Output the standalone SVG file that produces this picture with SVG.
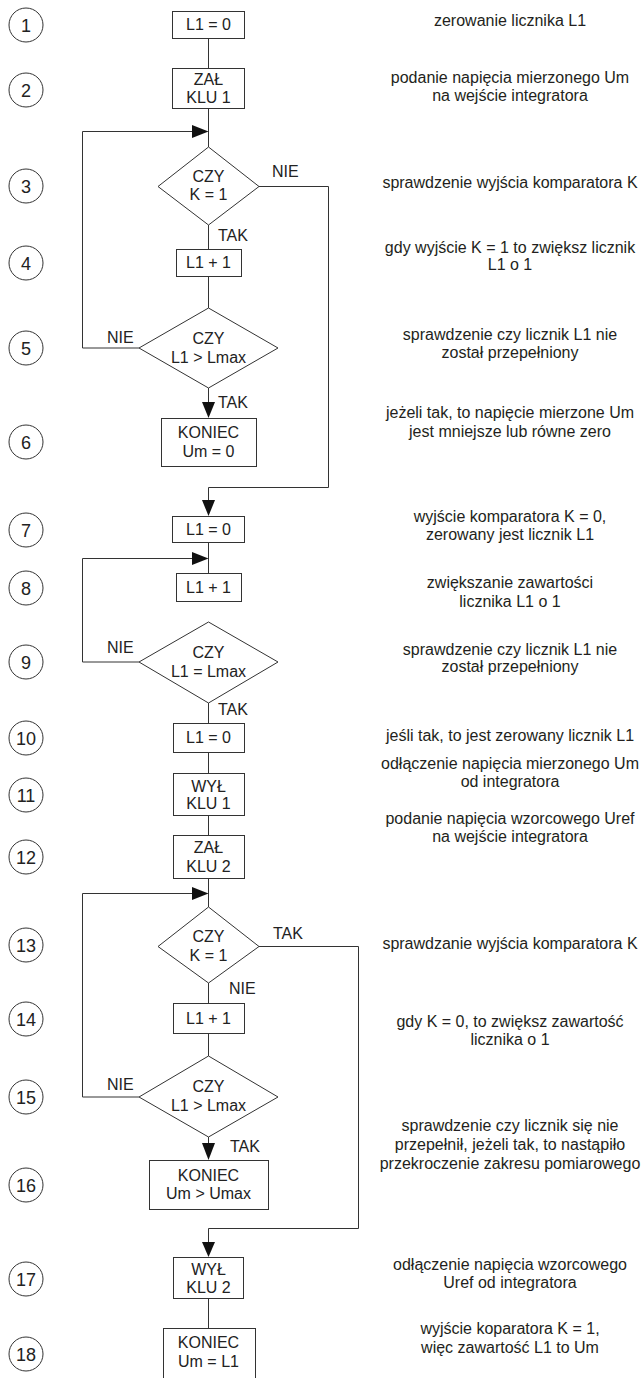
<svg xmlns="http://www.w3.org/2000/svg" width="643" height="1378" viewBox="0 0 643 1378">
<style>
.bx{fill:#fff;stroke:#333;stroke-width:1}
.cn{fill:none;stroke:#333;stroke-width:1}
.ah{fill:#111;stroke:none}
.t{font-family:"Liberation Sans",Arial,sans-serif;font-size:16px;fill:#222;text-anchor:middle}
.lb{font-family:"Liberation Sans",Arial,sans-serif;font-size:16px;fill:#222}
.num{font-family:"Liberation Sans",Arial,sans-serif;font-size:18px;fill:#222;text-anchor:middle}
.ds{font-family:"Liberation Sans",Arial,sans-serif;font-size:16px;fill:#231f20;text-anchor:middle}
.ci{fill:#fff;stroke:#333;stroke-width:1}
</style>
<rect width="643" height="1378" fill="#fff"/>
<g id="connectors">
<path class="cn" d="M208.5,38 V68"/>
<path class="cn" d="M208.5,109 V147"/>
<path class="cn" d="M139,348 H82.5 V131.5 H194"/>
<polygon class="ah" points="192,125 208.5,131.5 192,138"/>
<path class="cn" d="M208.5,225 V249"/>
<path class="cn" d="M208.5,277 V308"/>
<path class="cn" d="M208.5,388 V404"/>
<polygon class="ah" points="202,402 215,402 208.5,418"/>
<path class="cn" d="M259,186.5 H328.5 V487.5 H208.5 V502"/>
<polygon class="ah" points="202,500 215,500 208.5,516"/>
<path class="cn" d="M208.5,543 V573"/>
<path class="cn" d="M139,662 H82.5 V558.5 H194"/>
<polygon class="ah" points="192,552 208.5,558.5 192,565"/>
<path class="cn" d="M208.5,703 V723"/>
<path class="cn" d="M208.5,752 V773"/>
<path class="cn" d="M208.5,815 V835"/>
<path class="cn" d="M208.5,878 V907"/>
<path class="cn" d="M139,1097 H82.5 V893.5 H194"/>
<polygon class="ah" points="192,887 208.5,893.5 192,900"/>
<path class="cn" d="M208.5,983 V1003"/>
<path class="cn" d="M208.5,1033 V1056"/>
<path class="cn" d="M208.5,1137 V1144"/>
<polygon class="ah" points="202,1143 215,1143 208.5,1160"/>
<path class="cn" d="M259,946.5 H358.5 V1228.5 H208.5 V1244"/>
<polygon class="ah" points="202,1242 215,1242 208.5,1257"/>
<path class="cn" d="M208.5,1298 V1328"/>
<text class="lb" x="272" y="177">NIE</text>
<text class="lb" x="218" y="241">TAK</text>
<text class="lb" x="107" y="343">NIE</text>
<text class="lb" x="218" y="408">TAK</text>
<text class="lb" x="107" y="653">NIE</text>
<text class="lb" x="218" y="715">TAK</text>
<text class="lb" x="273" y="939">TAK</text>
<text class="lb" x="229" y="994">NIE</text>
<text class="lb" x="107" y="1090">NIE</text>
<text class="lb" x="230" y="1152">TAK</text>
</g>
<g id="n1"><rect class="bx" x="172.5" y="11.5" width="72" height="27"/><text class="t" x="208.5" y="30">L1 = 0</text></g>
<g id="n2"><rect class="bx" x="172.5" y="68.5" width="72" height="40"/><text class="t" x="208.5" y="85">ZAŁ</text><text class="t" x="208.5" y="103">KLU 1</text></g>
<g id="n3"><polygon class="bx" points="208.5,147 259,186.5 208.5,225 158,186.5"/><text class="t" x="208.5" y="182">CZY</text><text class="t" x="208.5" y="200">K = 1</text></g>
<g id="n4"><rect class="bx" x="176.5" y="249.5" width="65" height="27"/><text class="t" x="208.5" y="268">L1 + 1</text></g>
<g id="n5"><polygon class="bx" points="208.5,308 278,348 208.5,388 139,348"/><text class="t" x="208.5" y="344">CZY</text><text class="t" x="208.5" y="363">L1 &gt; Lmax</text></g>
<g id="n6"><rect class="bx" x="161.5" y="418.5" width="95" height="48"/><text class="t" x="208.5" y="438">KONIEC</text><text class="t" x="208.5" y="457">Um = 0</text></g>
<g id="n7"><rect class="bx" x="172.5" y="516.5" width="72" height="26"/><text class="t" x="208.5" y="535">L1 = 0</text></g>
<g id="n8"><rect class="bx" x="176.5" y="573.5" width="65" height="28"/><text class="t" x="208.5" y="593">L1 + 1</text></g>
<g id="n9"><polygon class="bx" points="208.5,622 278,662 208.5,703 139,662"/><text class="t" x="208.5" y="658">CZY</text><text class="t" x="208.5" y="677">L1 = Lmax</text></g>
<g id="n10"><rect class="bx" x="173.5" y="723.5" width="71" height="29"/><text class="t" x="208.5" y="743">L1 = 0</text></g>
<g id="n11"><rect class="bx" x="173.5" y="773.5" width="71" height="42"/><text class="t" x="208.5" y="792">WYŁ</text><text class="t" x="208.5" y="809">KLU 1</text></g>
<g id="n12"><rect class="bx" x="173.5" y="835.5" width="71" height="43"/><text class="t" x="208.5" y="853">ZAŁ</text><text class="t" x="208.5" y="872">KLU 2</text></g>
<g id="n13"><polygon class="bx" points="208.5,907 259,946.5 208.5,983 158,946.5"/><text class="t" x="208.5" y="942">CZY</text><text class="t" x="208.5" y="961">K = 1</text></g>
<g id="n14"><rect class="bx" x="173.5" y="1003.5" width="71" height="30"/><text class="t" x="208.5" y="1024">L1 + 1</text></g>
<g id="n15"><polygon class="bx" points="208.5,1056 278,1097 208.5,1137 139,1097"/><text class="t" x="208.5" y="1092">CZY</text><text class="t" x="208.5" y="1111">L1 &gt; Lmax</text></g>
<g id="n16"><rect class="bx" x="149.5" y="1160.5" width="119" height="49"/><text class="t" x="208.5" y="1181">KONIEC</text><text class="t" x="208.5" y="1199">Um &gt; Umax</text></g>
<g id="n17"><rect class="bx" x="173.5" y="1257.5" width="70" height="41"/><text class="t" x="208.5" y="1275">WYŁ</text><text class="t" x="208.5" y="1293">KLU 2</text></g>
<g id="n18"><rect class="bx" x="163.5" y="1328.5" width="92" height="60"/><text class="t" x="208.5" y="1348">KONIEC</text><text class="t" x="208.5" y="1367">Um = L1</text></g>
<g id="steps">
<circle class="ci" cx="26" cy="25" r="17"/><text class="num" x="26" y="31.5">1</text>
<circle class="ci" cx="26" cy="90" r="17"/><text class="num" x="26" y="96.5">2</text>
<circle class="ci" cx="26" cy="186" r="17"/><text class="num" x="26" y="192.5">3</text>
<circle class="ci" cx="26" cy="263" r="17"/><text class="num" x="26" y="269.5">4</text>
<circle class="ci" cx="26" cy="348" r="17"/><text class="num" x="26" y="354.5">5</text>
<circle class="ci" cx="26" cy="442" r="17"/><text class="num" x="26" y="448.5">6</text>
<circle class="ci" cx="26" cy="530" r="17"/><text class="num" x="26" y="536.5">7</text>
<circle class="ci" cx="26" cy="588" r="17"/><text class="num" x="26" y="594.5">8</text>
<circle class="ci" cx="26" cy="662" r="17"/><text class="num" x="26" y="668.5">9</text>
<circle class="ci" cx="26" cy="738" r="17"/><text class="num" x="26" y="744.5">10</text>
<circle class="ci" cx="26" cy="795" r="17"/><text class="num" x="26" y="801.5">11</text>
<circle class="ci" cx="26" cy="857" r="17"/><text class="num" x="26" y="863.5">12</text>
<circle class="ci" cx="26" cy="945" r="17"/><text class="num" x="26" y="951.5">13</text>
<circle class="ci" cx="26" cy="1019" r="17"/><text class="num" x="26" y="1025.5">14</text>
<circle class="ci" cx="26" cy="1097" r="17"/><text class="num" x="26" y="1103.5">15</text>
<circle class="ci" cx="26" cy="1185" r="17"/><text class="num" x="26" y="1191.5">16</text>
<circle class="ci" cx="26" cy="1279" r="17"/><text class="num" x="26" y="1285.5">17</text>
<circle class="ci" cx="26" cy="1354" r="17"/><text class="num" x="26" y="1360.5">18</text>
</g>
<g id="descriptions">
<text class="ds" x="510" y="26">zerowanie licznika L1</text>
<text class="ds" x="510" y="83">podanie napięcia mierzonego Um</text>
<text class="ds" x="510" y="101">na wejście integratora</text>
<text class="ds" x="510" y="188">sprawdzenie wyjścia komparatora K</text>
<text class="ds" x="510" y="253">gdy wyjście K = 1 to zwiększ licznik</text>
<text class="ds" x="510" y="270">L1 o 1</text>
<text class="ds" x="510" y="340">sprawdzenie czy licznik L1 nie</text>
<text class="ds" x="510" y="358">został przepełniony</text>
<text class="ds" x="510" y="418">jeżeli tak, to napięcie mierzone Um</text>
<text class="ds" x="510" y="437">jest mniejsze lub równe zero</text>
<text class="ds" x="510" y="522">wyjście komparatora K = 0,</text>
<text class="ds" x="510" y="540">zerowany jest licznik L1</text>
<text class="ds" x="510" y="588">zwiększanie zawartości</text>
<text class="ds" x="510" y="607">licznika L1 o 1</text>
<text class="ds" x="510" y="655">sprawdzenie czy licznik L1 nie</text>
<text class="ds" x="510" y="672">został przepełniony</text>
<text class="ds" x="510" y="741">jeśli tak, to jest zerowany licznik L1</text>
<text class="ds" x="510" y="769">odłączenie napięcia mierzonego Um</text>
<text class="ds" x="510" y="787">od integratora</text>
<text class="ds" x="510" y="824">podanie napięcia wzorcowego Uref</text>
<text class="ds" x="510" y="842">na wejście integratora</text>
<text class="ds" x="510" y="949">sprawdzanie wyjścia komparatora K</text>
<text class="ds" x="510" y="1027">gdy K = 0, to zwiększ zawartość</text>
<text class="ds" x="510" y="1045">licznika o 1</text>
<text class="ds" x="510" y="1131">sprawdzenie czy licznik się nie</text>
<text class="ds" x="510" y="1150">przepełnił, jeżeli tak, to nastąpiło</text>
<text class="ds" x="510" y="1169">przekroczenie zakresu pomiarowego</text>
<text class="ds" x="510" y="1270">odłączenie napięcia wzorcowego</text>
<text class="ds" x="510" y="1288">Uref od integratora</text>
<text class="ds" x="510" y="1334">wyjście koparatora K = 1,</text>
<text class="ds" x="510" y="1353">więc zawartość L1 to Um</text>
</g>
</svg>
